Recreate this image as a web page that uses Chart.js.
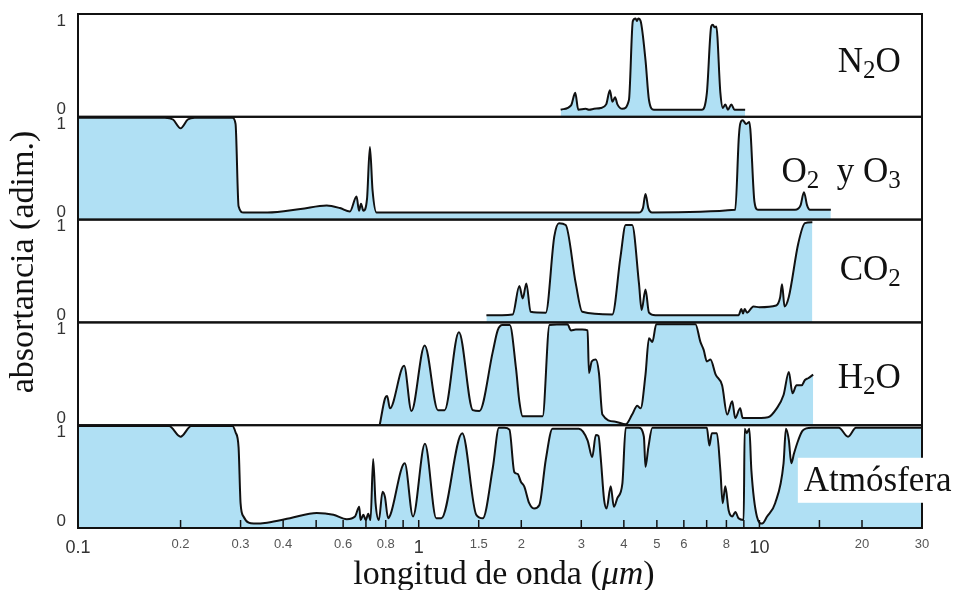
<!DOCTYPE html>
<html>
<head>
<meta charset="utf-8">
<script src="https://cdn.jsdelivr.net/npm/chart.js@4.4.0/dist/chart.umd.min.js"></script>
<style>
  html, body { margin: 0; padding: 0; background: #fff; }
  #wrap { width: 958px; height: 590px; position: relative; }
</style>
</head>
<body>
<div id="wrap"><canvas id="myChart"></canvas></div>
<script>
// wavelength (um) / absorptance pairs
var n2oWl  = [2.61, 2.80, 2.88, 2.94, 3.09, 3.16, 3.27, 3.42, 3.55, 3.64, 3.70, 3.77, 3.83, 3.96, 4.14, 4.25, 4.33, 4.37, 4.41, 4.48, 4.63, 4.74, 4.90, 6.78, 7.01, 7.22, 7.30, 7.38, 7.47, 7.68, 7.81, 7.94, 8.08, 8.27, 8.45, 9.08];
var n2oAbs = [0, 0.05, 0.19, 0, 0.01, 0, 0.01, 0.02, 0.06, 0.22, 0.09, 0.14, 0.06, 0.01, 0.11, 1.0, 1.03, 1.0, 1.03, 1.0, 0.56, 0.11, 0, 0, 0.19, 0.94, 0.96, 0.93, 0.94, 0.19, 0.02, 0.06, 0, 0.06, 0, 0];

var o3Wl  = [0.1, 0.18, 0.19, 0.2, 0.21, 0.22, 0.284, 0.29, 0.296, 0.306, 0.33, 0.36, 0.45, 0.537, 0.587, 0.628, 0.657, 0.668, 0.677, 0.688, 0.705, 0.719, 0.732, 0.752, 4.42, 4.55, 4.63, 4.72, 4.84, 8.49, 8.70, 8.78, 8.93, 9.14, 9.34, 9.67, 9.9, 12.72, 13.2, 13.51, 13.8, 14.07, 16.2];
var o3Abs = [1.07, 1.07, 1.05, 0.95, 1.05, 1.07, 1.07, 1.0, 0.07, 0, 0, 0, 0.04, 0.08, 0.05, 0.01, 0.18, 0.02, 0.1, 0.02, 0.15, 0.74, 0.25, 0, 0, 0.05, 0.21, 0.05, 0, 0.03, 0.85, 1.0, 1.04, 1.0, 1.02, 0.12, 0.03, 0.03, 0.08, 0.23, 0.08, 0.03, 0.03];

var co2Wl  = [1.58, 1.887, 1.974, 2.02, 2.07, 2.13, 2.36, 2.5, 2.58, 2.70, 2.89, 3.02, 3.70, 3.91, 4.05, 4.23, 4.43, 4.51, 4.63, 4.74, 4.95, 8.68, 8.85, 8.95, 9.05, 9.2, 9.6, 10.0, 11.2, 11.5, 11.65, 11.85, 12.2, 13.0, 13.6, 14.3];
var co2Abs = [0, 0.01, 0.33, 0.19, 0.36, 0.04, 0.03, 0.89, 1.04, 1.02, 0.36, 0.04, 0.01, 0.66, 1.02, 1.02, 0.36, 0.06, 0.29, 0.03, 0, 0, 0.07, 0.02, 0.07, 0.03, 0.1, 0.09, 0.11, 0.2, 0.35, 0.1, 0.21, 0.81, 1.04, 1.05];

var h2oWl  = [0.769, 0.796, 0.808, 0.823, 0.906, 0.952, 1.041, 1.139, 1.191, 1.312, 1.441, 1.507, 1.65, 1.705, 1.76, 1.85, 1.93, 1.974, 2.02, 2.31, 2.42, 2.73, 2.80, 2.89, 3.02, 3.13, 3.16, 3.22, 3.31, 3.38, 3.46, 3.78, 4.05, 4.23, 4.38, 4.48, 4.63, 4.74, 4.85, 4.98, 6.49, 6.71, 6.86, 7.01, 7.18, 7.44, 7.77, 8.04, 8.32, 8.49, 8.78, 8.93, 9.47, 10.6, 11.24, 11.77, 12.2, 12.5, 12.85, 13.3, 13.6, 13.9, 14.38];
var h2oAbs = [-0.07, 0.22, 0.25, 0.11, 0.59, 0.08, 0.82, 0.09, 0.09, 0.97, 0.09, 0.08, 0.75, 0.99, 1.05, 1.05, 0.56, 0.19, 0.02, 0.02, 1.05, 1.06, 0.99, 1.0, 1.0, 0.99, 0.51, 0.64, 0.66, 0.51, 0.04, -0.04, -0.07, 0.04, 0.14, 0.11, 0.49, 0.9, 0.86, 1.06, 1.06, 0.86, 0.77, 0.64, 0.66, 0.49, 0.37, 0.04, 0.19, 0, 0.11, 0, 0, 0.01, 0.11, 0.26, 0.52, 0.28, 0.37, 0.37, 0.43, 0.45, 0.49];

var atmWl  = [0.1, 0.185, 0.2, 0.215, 0.284, 0.29, 0.296, 0.300, 0.306, 0.328, 0.359, 0.419, 0.502, 0.562, 0.615, 0.65, 0.669, 0.675, 0.688, 0.699, 0.711, 0.722, 0.735, 0.747, 0.764, 0.783, 0.796, 0.813, 0.826, 0.91, 0.962, 1.043, 1.126, 1.165, 1.342, 1.475, 1.542, 1.65, 1.72, 1.784, 1.846, 1.908, 1.951, 1.996, 2.04, 2.11, 2.18, 2.26, 2.36, 2.47, 2.95, 3.13, 3.23, 3.31, 3.37, 3.42, 3.50, 3.56, 3.66, 3.74, 3.83, 3.96, 4.05, 4.42, 4.58, 4.63, 4.72, 4.85, 7.01, 7.13, 7.25, 7.5, 7.68, 7.8, 7.94, 8.12, 8.32, 8.5, 8.68, 8.99, 9.05, 9.18, 9.34, 9.47, 9.83, 10.18, 10.53, 11.12, 11.77, 11.96, 12.2, 12.4, 12.63, 13.0, 13.4, 14.2, 17.1, 18.2, 19.2, 30];
var atmAbs = [1.07, 1.07, 0.95, 1.07, 1.07, 1.0, 0.83, 0.2, 0.05, -0.03, -0.02, 0.03, 0.09, 0.07, 0.02, 0.05, 0.16, 0.01, 0.07, 0.01, 0.08, 0.01, 0.7, 0.2, 0.01, 0.33, 0.27, 0.03, 0.07, 0.65, 0.05, 0.87, 0.03, 0.03, 0.99, 0.07, 0.03, 0.6, 1.05, 1.05, 1.03, 0.55, 0.53, 0.44, 0.39, 0.2, 0.14, 0.18, 0.69, 1.04, 1.04, 0.91, 0.72, 0.97, 0.96, 0.72, 0.24, 0.14, 0.39, 0.16, 0.26, 0.42, 1.05, 1.05, 0.95, 0.61, 0.83, 1.05, 1.05, 0.85, 0.99, 0.99, 0.57, 0.2, 0.39, 0.12, 0.05, 0.1, 0.03, 0.01, 1.04, 0.99, 1.04, 0.57, 0.05, -0.03, 0.05, 0.2, 0.65, 1.04, 0.91, 0.65, 0.76, 0.91, 1.02, 1.05, 1.05, 0.95, 1.05, 1.05];

var xTicks  = [0.1, 0.2, 0.3, 0.4, 0.5, 0.6, 0.7, 0.8, 0.9, 1, 1.5, 2, 3, 4, 5, 6, 7, 8, 9, 10, 15, 20, 30];
var xLabels = ['0.1', '0.2', '0.3', '0.4', '', '0.6', '', '0.8', '', '1', '1.5', '2', '3', '4', '5', '6', '', '8', '', '10', '', '20', '30'];
var bigLabels = ['0.1', '1', '10'];
var yTicks = [0, 1];

var blue = '#b0e0f4';
var serif = '"Liberation Serif", "Times New Roman", serif';
var sans = '"Liberation Sans", Arial, sans-serif';

// panel names, top to bottom; sub = subscript, it = italic
var panels = [
  {axis: 'yN2O', name: [{t: 'N'}, {t: '2', sub: 1}, {t: 'O'}], at: [26, 0.42], align: 'right'},
  {axis: 'yO3',  name: [{t: 'O'}, {t: '2', sub: 1}, {t: '\u2002y '}, {t: 'O'}, {t: '3', sub: 1}], at: [26, 0.34], align: 'right'},
  {axis: 'yCO2', name: [{t: 'CO'}, {t: '2', sub: 1}], at: [26, 0.40], align: 'right'},
  {axis: 'yH2O', name: [{t: 'H'}, {t: '2', sub: 1}, {t: 'O'}], at: [26, 0.34], align: 'right'},
  {axis: 'yAtm', name: [{t: 'Atmósfera'}], at: [13.5, 0.34], align: 'left', box: true}
];

function drawRich(ctx, parts, x, y, align, size) {
  function font(p) {
    return (p.it ? 'italic ' : '') + (p.sub ? Math.round(size * 0.7) : size) + 'px ' + serif;
  }
  var w = 0;
  parts.forEach(function (p) { ctx.font = font(p); w += ctx.measureText(p.t).width; });
  var cx = align === 'right' ? x - w : (align === 'center' ? x - w / 2 : x);
  parts.forEach(function (p) {
    ctx.font = font(p);
    ctx.fillText(p.t, cx, y + (p.sub ? size * 0.17 : 0));
    cx += ctx.measureText(p.t).width;
  });
}

var decorations = {
  id: 'decorations',
  afterDatasetsDraw: function (chart) {
    var ctx = chart.ctx, x = chart.scales.x;
    ctx.save();
    // panel frames
    ctx.strokeStyle = '#111';
    ctx.lineWidth = 2;
    panels.forEach(function (p) {
      var y = chart.scales[p.axis];
      ctx.strokeRect(x.left, y.top, x.right - x.left, y.bottom - y.top);
    });
    // tick marks pointing into the bottom panel
    ctx.lineWidth = 1.5;
    xTicks.forEach(function (v) {
      if (v <= x.min || v >= x.max) return;
      var px = x.getPixelForValue(v);
      ctx.beginPath();
      ctx.moveTo(px, x.top);
      ctx.lineTo(px, x.top - 8);
      ctx.stroke();
    });
    // panel names
    ctx.fillStyle = '#111';
    ctx.textBaseline = 'alphabetic';
    panels.forEach(function (p) {
      var y = chart.scales[p.axis];
      var px = x.getPixelForValue(p.at[0]), py = y.getPixelForValue(p.at[1]);
      if (p.box) {
        ctx.fillStyle = '#fff';
        ctx.fillRect(px - 6, py - 33, chart.width - px + 6, 45);
        ctx.fillStyle = '#111';
      }
      drawRich(ctx, p.name, px, py, p.align, 35);
    });
    // axis titles
    drawRich(ctx, [{t: 'longitud de onda ('}, {t: 'μm', it: 1}, {t: ')'}], (x.left + x.right) / 2 + 4, 584, 'center', 34);
    ctx.translate(33, 262);
    ctx.rotate(-Math.PI / 2);
    drawRich(ctx, [{t: 'absortancia (adim.)'}], 0, 0, 'center', 34);
    ctx.restore();
  }
};

function panelSet(label, wl, ab, axis) {
  return {
    label: label,
    yAxisID: axis,
    data: wl.map(function (w, i) { return {x: w, y: ab[i]}; }),
    borderColor: '#111',
    borderWidth: 2,
    backgroundColor: blue,
    fill: 'start',
    pointRadius: 0,
    cubicInterpolationMode: 'monotone'
  };
}

function panelAxis(weight) {
  return {
    type: 'linear',
    position: 'left',
    stack: 'panels',
    stackWeight: 1,
    weight: weight,
    min: -0.08,
    max: 1.08,
    grid: {display: false, drawTicks: false},
    border: {display: false},
    afterBuildTicks: function (s) { s.ticks = yTicks.map(function (v) { return {value: v}; }); },
    afterFit: function (s) { s.width = 30; s.paddingTop = 0; s.paddingBottom = 0; },
    ticks: {padding: 12, color: '#333', font: {family: sans, size: 17}}
  };
}

new Chart(document.getElementById('myChart'), {
  type: 'line',
  data: {
    datasets: [
      panelSet('N2O', n2oWl, n2oAbs, 'yN2O'),
      panelSet('O2 y O3', o3Wl, o3Abs, 'yO3'),
      panelSet('CO2', co2Wl, co2Abs, 'yCO2'),
      panelSet('H2O', h2oWl, h2oAbs, 'yH2O'),
      panelSet('Atmósfera', atmWl, atmAbs, 'yAtm')
    ]
  },
  options: {
    responsive: true,
    maintainAspectRatio: false,
    animation: false,
    layout: {padding: {left: 48, right: 36, top: 14, bottom: 0}},
    plugins: {
      legend: {display: false},
      tooltip: {enabled: false}
    },
    scales: {
      x: {
        type: 'logarithmic',
        min: 0.1,
        max: 30,
        grid: {display: false, drawTicks: false},
        border: {display: false},
        afterBuildTicks: function (s) { s.ticks = xTicks.map(function (v) { return {value: v}; }); },
        afterFit: function (s) { s.height = 62; s.paddingLeft = 0; s.paddingRight = 0; },
        ticks: {
          autoSkip: false,
          maxRotation: 0,
          padding: 9,
          callback: function (value, index) { return xLabels[index]; },
          color: function (c) { return bigLabels.indexOf(xLabels[c.index]) >= 0 ? '#333' : '#555'; },
          font: function (c) {
            var big = bigLabels.indexOf(xLabels[c.index]) >= 0;
            return {family: sans, size: big ? 18 : 13};
          }
        }
      },
      yAtm: panelAxis(1),
      yH2O: panelAxis(2),
      yCO2: panelAxis(3),
      yO3: panelAxis(4),
      yN2O: panelAxis(5)
    }
  },
  plugins: [decorations]
});
</script>
</body>
</html>
